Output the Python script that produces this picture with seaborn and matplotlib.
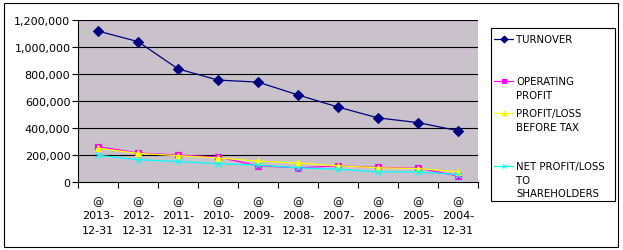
import matplotlib
matplotlib.use("Agg")
import matplotlib.pyplot as plt
from matplotlib.lines import Line2D
from matplotlib.patches import Rectangle
import seaborn as sns
import pandas as pd
import numpy as np

dates = ["2013-12-31", "2012-12-31", "2011-12-31", "2010-12-31", "2009-12-31",
         "2008-12-31", "2007-12-31", "2006-12-31", "2005-12-31", "2004-12-31"]
turnover = [1118000, 1040000, 838000, 755000, 740000, 645000, 555000, 475000, 440000, 380000]
operating_profit = [262000, 215000, 200000, 185000, 120000, 105000, 120000, 108000, 103000, 45000]
profit_before_tax = [250000, 212000, 195000, 178000, 155000, 140000, 120000, 105000, 100000, 75000]
net_profit = [198000, 165000, 152000, 135000, 125000, 105000, 95000, 75000, 75000, 55000]

series_names = ["TURNOVER", "OPERATING PROFIT", "PROFIT/LOSS BEFORE TAX", "NET PROFIT/LOSS TO SHAREHOLDERS"]
legend_labels = ["TURNOVER", "OPERATING\nPROFIT", "PROFIT/LOSS\nBEFORE TAX", "NET PROFIT/LOSS\nTO\nSHAREHOLDERS"]
series_values = [turnover, operating_profit, profit_before_tax, net_profit]
colors = {"TURNOVER": "#000080", "OPERATING PROFIT": "#FF00FF",
          "PROFIT/LOSS BEFORE TAX": "#FFFF00", "NET PROFIT/LOSS TO SHAREHOLDERS": "#00FFFF"}
markers = {"TURNOVER": "D", "OPERATING PROFIT": "s",
           "PROFIT/LOSS BEFORE TAX": "^", "NET PROFIT/LOSS TO SHAREHOLDERS": "x"}
yticks = [0, 200000, 400000, 600000, 800000, 1000000, 1200000]

rows = []
for name, vals in zip(series_names, series_values):
    for i, (d, v) in enumerate(zip(dates, vals)):
        rows.append({"pos": i, "date": d, "series": name, "value": v})
df = pd.DataFrame(rows)

sns.set_theme(style="white")
plt.rcParams["font.family"] = ["DejaVu Sans"]

fig = plt.figure(figsize=(6.23, 2.51), dpi=100)
fig.patch.set_facecolor("white")
ax = fig.add_axes([78 / 623, 1 - 183 / 251, 400 / 623, 162 / 251])
ax.set_facecolor("#C9C2CA")

for name in series_names:
    sub = df[df["series"] == name]
    sns.lineplot(data=sub, x="pos", y="value", color=colors[name], marker=markers[name],
                 linewidth=0.9, markersize=4.8, ax=ax, legend=False,
                 markeredgecolor=colors[name], markeredgewidth=0.8)

ax.set_xlim(-0.5, len(dates) - 0.5)
ax.set_ylim(0, 1200000)
ax.set_yticks(yticks)
ax.set_yticklabels([f"{v:,}" for v in yticks])
for v in yticks[1:]:
    ax.axhline(v, color="black", lw=0.8, zorder=0.5)

ax.set_xticks(np.arange(-0.5, len(dates), 1.0))
ax.set_xticklabels([])
ax.set_xticks(np.arange(len(dates)), minor=True)
ax.set_xticklabels(["@\n" + d[:5] + "\n" + d[5:] for d in dates], minor=True,
                   linespacing=1.55)
ax.tick_params(axis="x", which="major", length=4, width=0.8, color="black", direction="out", bottom=True)
ax.tick_params(axis="x", which="minor", length=0, pad=10, labelsize=8, labelcolor="black")
ax.tick_params(axis="y", length=4, width=0.8, color="black", direction="out", left=True, pad=1.5,
               labelsize=8, labelcolor="black")
ax.set_xlabel("")
ax.set_ylabel("")
for s in ["top", "right"]:
    ax.spines[s].set_visible(False)
for s in ["left", "bottom"]:
    ax.spines[s].set_color("black")
    ax.spines[s].set_linewidth(0.8)

# outer chart border
fig.add_artist(Rectangle((4 / 623, 1 - 248 / 251), 614 / 623, 244 / 251,
                         transform=fig.transFigure, fill=False, edgecolor="black", lw=0.8))

# legend box
fig.add_artist(Rectangle((491 / 623, 1 - 202 / 251), 124 / 623, 173 / 251,
                         transform=fig.transFigure, fill=False, edgecolor="black", lw=0.8))
entry_y = [40, 82, 114, 167]
for name, lab, y in zip(series_names, legend_labels, entry_y):
    yf = 1 - y / 251
    fig.add_artist(Line2D([494 / 623, 513 / 623], [yf, yf], transform=fig.transFigure,
                          color=colors[name], lw=0.9))
    fig.add_artist(Line2D([503.5 / 623], [yf], transform=fig.transFigure, color=colors[name],
                          marker=markers[name], markersize=3.5, mec=colors[name], mew=0.8))
    fig.text(516 / 623, yf + 5 / 251, lab, fontsize=7.3, va="top", ha="left",
             linespacing=1.45, color="black")

fig.savefig("out.png", dpi=100, facecolor="white")
